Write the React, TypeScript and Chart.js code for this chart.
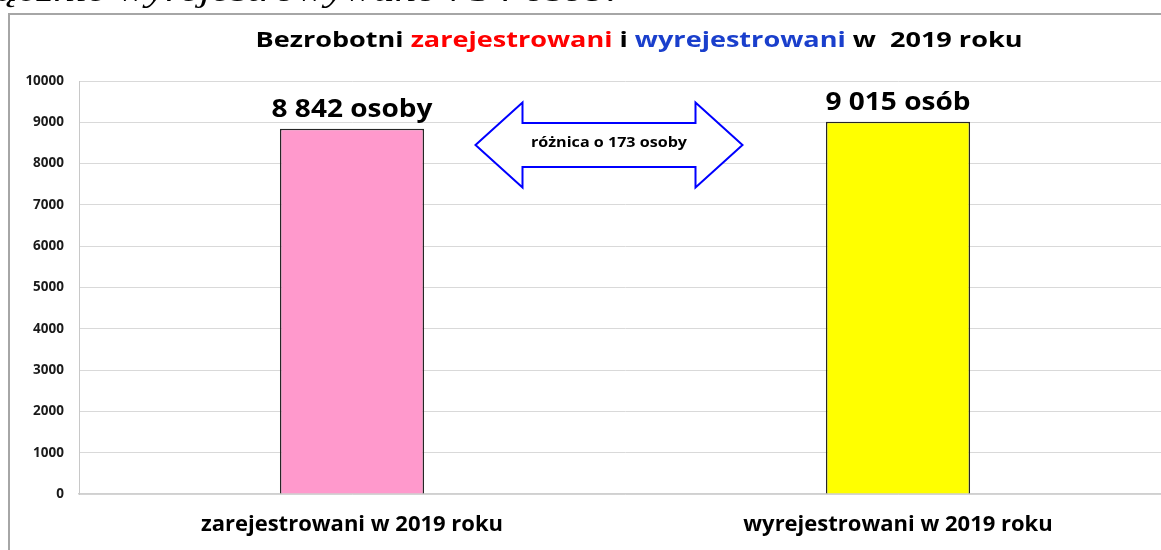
import React, { useEffect, useRef } from "react";
import { Chart, registerables } from "chart.js";

Chart.register(...registerables);

// ---- data ----
const categories = ["zarejestrowani w 2019 roku", "wyrejestrowani w 2019 roku"];
const values = [8842, 9015];
const valueLabels = ["8 842 osoby", "9 015 osób"];
const barColors = ["#FF99CC", "#FFFF00"];
const yMin = 0;
const yMax = 10000;
const yStep = 1000;
const titleParts = [
  { text: "Bezrobotni ", color: "#000000" },
  { text: "zarejestrowani", color: "#FF0000" },
  { text: " i ", color: "#000000" },
  { text: "wyrejestrowani", color: "#1A3FCC" },
  { text: " w  2019 roku", color: "#000000" },
];
const differenceLabel = "różnica o 173 osoby";
const arrowLevel = 8450;
const pageText = "łącznie wyrejestrowywano 754 osób.";

const SANS = "'Open Sans', 'DejaVu Sans', sans-serif";

function fillStretched(ctx: any, text: string, x: number, y: number, sx: number, align: string) {
  ctx.save();
  ctx.translate(x, y);
  ctx.scale(sx, 1);
  ctx.textAlign = align;
  ctx.fillText(text, 0, 0);
  ctx.restore();
}

const overlayPlugin = {
  id: "overlay",
  beforeDraw(chart: any) {
    const ctx = chart.ctx;
    ctx.save();
    ctx.fillStyle = "#ffffff";
    ctx.fillRect(0, 0, chart.width, chart.height);
    ctx.strokeStyle = "#a6a6a6";
    ctx.lineWidth = 2;
    ctx.strokeRect(9, 14, chart.width + 100, chart.height + 100);
    ctx.restore();
  },
  afterDatasetsDraw(chart: any) {
    const ctx = chart.ctx;
    const meta = chart.getDatasetMeta(0);
    const yScale = chart.scales.y;
    ctx.save();

    // value labels above bars
    ctx.font = `bold 25px ${SANS}`;
    ctx.textBaseline = "alphabetic";
    ctx.fillStyle = "#000000";
    meta.data.forEach((bar: any, i: number) => {
      fillStretched(ctx, valueLabels[i], bar.x, bar.y - 12, 1.12, "center");
    });

    // title with coloured parts
    const tsx = 1.23;
    ctx.font = `bold 22px ${SANS}`;
    const total = titleParts.reduce((s, p) => s + ctx.measureText(p.text).width * tsx, 0);
    let tx = 639 - total / 2;
    titleParts.forEach((p) => {
      ctx.fillStyle = p.color;
      fillStretched(ctx, p.text, tx, 47, tsx, "left");
      tx += ctx.measureText(p.text).width * tsx;
    });

    // double arrow between bars
    const cx = (meta.data[0].x + meta.data[1].x) / 2 - 16;
    const cy = yScale.getPixelForValue(arrowLevel);
    const halfW = 133.5;
    const headLen = 47;
    const headH = 42.5;
    const shaftH = 22;
    ctx.beginPath();
    ctx.moveTo(cx - halfW, cy);
    ctx.lineTo(cx - halfW + headLen, cy - headH);
    ctx.lineTo(cx - halfW + headLen, cy - shaftH);
    ctx.lineTo(cx + halfW - headLen, cy - shaftH);
    ctx.lineTo(cx + halfW - headLen, cy - headH);
    ctx.lineTo(cx + halfW, cy);
    ctx.lineTo(cx + halfW - headLen, cy + headH);
    ctx.lineTo(cx + halfW - headLen, cy + shaftH);
    ctx.lineTo(cx - halfW + headLen, cy + shaftH);
    ctx.lineTo(cx - halfW + headLen, cy + headH);
    ctx.closePath();
    ctx.fillStyle = "#ffffff";
    ctx.fill();
    ctx.strokeStyle = "#0000FF";
    ctx.lineWidth = 2;
    ctx.stroke();

    ctx.font = `bold 14px ${SANS}`;
    ctx.textBaseline = "middle";
    ctx.fillStyle = "#000000";
    fillStretched(ctx, differenceLabel, cx, cy - 2, 1.15, "center");

    ctx.restore();
  },
};

export default function App() {
  const canvasRef = useRef<HTMLCanvasElement | null>(null);

  useEffect(() => {
    if (!canvasRef.current) return;
    const chart = new Chart(canvasRef.current, {
      type: "bar",
      data: {
        labels: categories,
        datasets: [
          {
            data: values,
            backgroundColor: barColors,
            borderColor: "#262626",
            borderWidth: 1.5,
            categoryPercentage: 1,
            barPercentage: 0.264,
          },
        ],
      },
      options: {
        animation: false,
        responsive: false,
        maintainAspectRatio: false,
        devicePixelRatio: 1,
        layout: { padding: { top: 81, left: 0, right: 129, bottom: 0 } },
        plugins: {
          legend: { display: false },
          tooltip: { enabled: false },
          title: { display: false },
        },
        scales: {
          x: {
            grid: { display: false, drawTicks: false },
            border: { display: true, color: "#d0d0d0", width: 1.5 },
            ticks: {
              color: "#000000",
              font: { family: SANS, size: 22, weight: "bold" },
              padding: 18,
              maxRotation: 0,
              autoSkip: false,
            },
            afterFit: (scale: any) => {
              scale.height = 56;
            },
          },
          y: {
            min: yMin,
            max: yMax,
            ticks: {
              stepSize: yStep,
              color: "#1a1a1a",
              font: { family: SANS, size: 13.5, weight: "bold" },
              padding: 15,
              callback: (v: any) => String(v),
            },
            grid: { color: "#d9d9d9", lineWidth: 1, drawTicks: false },
            border: { display: true, color: "#c8c8c8", width: 1 },
            afterFit: (scale: any) => {
              scale.width = 79;
            },
          },
        },
      },
      plugins: [overlayPlugin],
    });
    return () => chart.destroy();
  }, []);

  return (
    <div
      style={{
        position: "fixed",
        left: 0,
        top: 0,
        width: 1161,
        height: 550,
        overflow: "hidden",
        background: "#ffffff",
      }}
    >
      <canvas
        ref={canvasRef}
        width={1300}
        height={550}
        style={{ position: "absolute", left: 0, top: 0, width: 1300, height: 550 }}
      />
      <div
        style={{
          position: "absolute",
          left: -16,
          top: -26,
          fontFamily: "'Liberation Serif', 'DejaVu Serif', serif",
          fontStyle: "italic",
          fontSize: 32,
          lineHeight: "32px",
          whiteSpace: "nowrap",
          color: "#000000",
          transform: "scaleX(1.35)",
          transformOrigin: "0 0",
        }}
      >
        {pageText}
      </div>
    </div>
  );
}
